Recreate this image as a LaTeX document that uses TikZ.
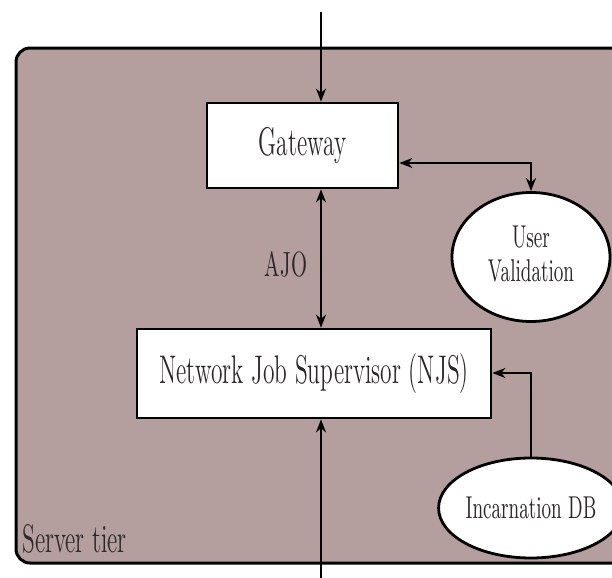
\documentclass[tikz,border=0pt]{standalone}
\usetikzlibrary{arrows.meta,shapes.geometric}
\definecolor{tierfill}{RGB}{180,158,158}
\definecolor{txt}{RGB}{45,40,40}
\newcommand{\vst}[1]{\scalebox{1}[1.7]{#1}}
\begin{document}
\begin{tikzpicture}[x={(0.5pt,0pt)},y={(0pt,-0.5pt)},
  box/.style={draw=black,line width=1.4pt,fill=white,rectangle,inner sep=0pt,text=txt,
    font=\fontsize{11.75}{14}\selectfont},
  oval/.style={draw=black,line width=1.4pt,fill=white,ellipse,inner sep=0pt,text=txt,
    font=\fontsize{9.3}{11}\selectfont},
  conn/.style={draw=black,line width=0.9pt},
  tipend/.style={-{Stealth[length=6.5pt,width=5pt]}},
  tipboth/.style={{Stealth[length=6.5pt,width=5pt]}-{Stealth[length=6.5pt,width=5pt]}},
  lbl/.style={inner sep=0pt,text=txt}]
\clip (0,0) rectangle (612,578);
\fill[white] (0,0) rectangle (612,578);
% server tier frame
\draw[fill=tierfill,line width=1.5pt,rounded corners=7pt] (16,48) rectangle (640,563);
\node[lbl,anchor=base west,font=\fontsize{11.7}{14}\selectfont] (tier) at (22,552) {\vst{Server tier}};
% nodes
\node[box,minimum width=95.5pt,minimum height=42.5pt] (gw) at (302.5,145.5) {\vst{Gateway}};
\node[box,minimum width=177pt,minimum height=44.5pt] (njs) at (314,373.5) {\vst{Network Job Supervisor (NJS)}};
\node[oval,minimum width=79pt,minimum height=64.5pt] (uv) at (531,257)
  {\vst{\begin{tabular}{@{}c@{}}User\\[-1pt]Validation\end{tabular}}};
\node[oval,minimum width=86pt,minimum height=50pt] (idb) at (531,508) {\raisebox{-3pt}{\vst{Incarnation DB}}};
\node[lbl,font=\fontsize{10.3}{12}\selectfont] (ajo) at (286,264) {\vst{AJO}};
% coordinates
\coordinate (topin) at (321,12);
\coordinate (botin) at (321,578);
\coordinate (uvc) at (531,163);
\coordinate (idbc) at (531,373);
% connectors
\draw[conn,tipend] (topin) -- (topin |- gw.north);
\draw[conn,tipboth] (gw.south -| topin) -- (njs.north -| topin);
\draw[conn,tipend] (botin) -- (njs.south -| botin);
\draw[conn,tipboth] (gw.east |- uvc) -- (uvc) -- (uv.north);
\draw[conn,tipend] (idb.north) -- (idbc) -- (njs.east |- idbc);
\end{tikzpicture}
\end{document}
